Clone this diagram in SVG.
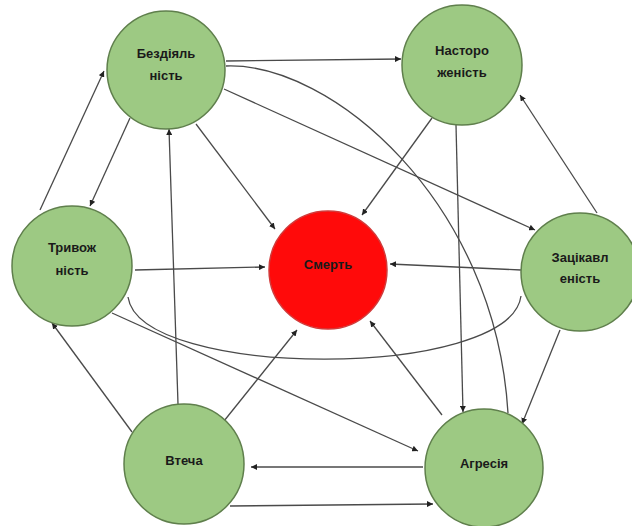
<svg xmlns="http://www.w3.org/2000/svg" width="632" height="526" viewBox="0 0 632 526">
  <style>
    .node { fill: #9dc983; stroke: #5f7f4c; stroke-width: 1.5; }
    .death { fill: #ff0a0a; stroke: #d23a3a; stroke-width: 1.5; }
    .label { font-family: "Liberation Sans", Arial, sans-serif; font-weight: bold; font-size: 13px; fill: #1a1a1a; text-anchor: middle; }
    .edge { fill: none; stroke: #4a4a4a; stroke-width: 1.3; }
    .arrow { marker-end: url(#tip); }
  </style>
  <defs>
    <marker id="tip" viewBox="0 0 10 10" refX="10" refY="5" markerWidth="6" markerHeight="6" markerUnits="userSpaceOnUse" orient="auto">
      <path d="M0,0 L10,5 L0,10 z" fill="#222"/>
    </marker>
  </defs>
  <rect width="632" height="526" fill="#ffffff"/>

  <g id="connectors">
    <line class="edge arrow" x1="40" y1="210" x2="104" y2="71"/>
    <line class="edge arrow" x1="130" y1="118" x2="90" y2="206"/>
    <line class="edge arrow" x1="226" y1="61" x2="401" y2="59"/>
    <path class="edge" d="M226,66 C330,62 495,200 508,413"/>
    <line class="edge arrow" x1="224" y1="89" x2="535" y2="230"/>
    <line class="edge arrow" x1="196" y1="124" x2="275" y2="229"/>
    <line class="edge arrow" x1="178" y1="404" x2="169" y2="129"/>
    <line class="edge arrow" x1="432" y1="118" x2="362" y2="215"/>
    <line class="edge arrow" x1="456" y1="125" x2="463" y2="412"/>
    <line class="edge arrow" x1="597" y1="213" x2="520" y2="95"/>
    <line class="edge arrow" x1="521" y1="270" x2="390" y2="264"/>
    <line class="edge arrow" x1="560" y1="330" x2="522" y2="424"/>
    <line class="edge arrow" x1="135" y1="270" x2="265" y2="267"/>
    <path class="edge" d="M128,297 C140,380 510,380 521,296"/>
    <line class="edge arrow" x1="112" y1="313" x2="418" y2="451"/>
    <line class="edge arrow" x1="132" y1="432" x2="52" y2="323"/>
    <line class="edge arrow" x1="224" y1="421" x2="297" y2="330"/>
    <line class="edge arrow" x1="442" y1="415" x2="370" y2="321"/>
    <line class="edge arrow" x1="423" y1="467" x2="251" y2="467"/>
    <line class="edge arrow" x1="230" y1="506" x2="433" y2="504"/>
  </g>

  <g id="bezdiialnist">
    <circle class="node" cx="166" cy="70" r="59"/>
    <text class="label" x="166" y="58">Бездіяль</text>
    <text class="label" x="166" y="80">ність</text>
  </g>
  <g id="nastorozhenist">
    <circle class="node" cx="462" cy="65" r="60"/>
    <text class="label" x="462" y="55">Насторо</text>
    <text class="label" x="462" y="77">женість</text>
  </g>
  <g id="tryvozhnist">
    <circle class="node" cx="72" cy="266" r="60"/>
    <text class="label" x="72" y="252">Тривож</text>
    <text class="label" x="72" y="275">ність</text>
  </g>
  <g id="smert">
    <circle class="death" cx="328" cy="270" r="59"/>
    <text class="label" x="328" y="269">Смерть</text>
  </g>
  <g id="zatsikavlenist">
    <circle class="node" cx="580" cy="272" r="59"/>
    <text class="label" x="580" y="262">Зацікавл</text>
    <text class="label" x="580" y="283">еність</text>
  </g>
  <g id="vtecha">
    <circle class="node" cx="184" cy="464" r="60"/>
    <text class="label" x="184" y="465">Втеча</text>
  </g>
  <g id="ahresiia">
    <circle class="node" cx="484" cy="468" r="59"/>
    <text class="label" x="484" y="468">Агресія</text>
  </g>
</svg>
